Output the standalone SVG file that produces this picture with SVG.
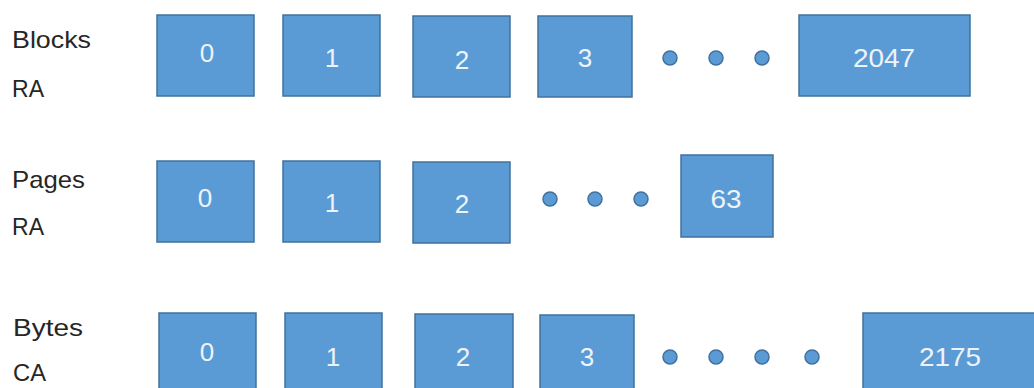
<svg xmlns="http://www.w3.org/2000/svg" width="1034" height="388" viewBox="0 0 1034 388">
<style>
.box{fill:#5B9BD5;stroke:#41719C;stroke-width:1.5}
.dot{fill:#5B9BD5;stroke:#41719C;stroke-width:1.5}
.num{font-family:"Liberation Sans",Arial,sans-serif;font-size:26px;fill:#EEF3FA;text-anchor:middle}
.lbl{font-family:"Liberation Sans",Arial,sans-serif;font-size:24px;fill:#262626}
</style>
<rect width="1034" height="388" fill="#FFFFFF"/>
<g id="labels">
<text class="lbl" x="12" y="48" textLength="79" lengthAdjust="spacingAndGlyphs">Blocks</text>
<text class="lbl" x="12" y="97" textLength="32" lengthAdjust="spacingAndGlyphs">RA</text>
<text class="lbl" x="12" y="188" textLength="73" lengthAdjust="spacingAndGlyphs">Pages</text>
<text class="lbl" x="12" y="235" textLength="32" lengthAdjust="spacingAndGlyphs">RA</text>
<text class="lbl" x="13" y="336" textLength="70" lengthAdjust="spacingAndGlyphs">Bytes</text>
<text class="lbl" x="13" y="381" textLength="33" lengthAdjust="spacingAndGlyphs">CA</text>
</g>
<g id="blocks-row">
<g id="block-0"><rect class="box" x="157" y="15" width="97" height="81"/><text class="num" x="207" y="62">0</text></g>
<g id="block-1"><rect class="box" x="283" y="15" width="97" height="81"/><text class="num" x="332" y="67">1</text></g>
<g id="block-2"><rect class="box" x="413" y="16" width="97" height="81"/><text class="num" x="462" y="69">2</text></g>
<g id="block-3"><rect class="box" x="538" y="16" width="94" height="81"/><text class="num" x="585" y="67">3</text></g>
<g id="block-dots"><circle class="dot" cx="670" cy="58" r="7"/><circle class="dot" cx="716" cy="58" r="7"/><circle class="dot" cx="762" cy="58" r="7"/></g>
<g id="block-2047"><rect class="box" x="799" y="15" width="171" height="81"/><text class="num" x="884" y="67" textLength="62" lengthAdjust="spacingAndGlyphs">2047</text></g>
</g>
<g id="pages-row">
<g id="page-0"><rect class="box" x="157" y="161" width="97" height="81"/><text class="num" x="205" y="207">0</text></g>
<g id="page-1"><rect class="box" x="283" y="161" width="97" height="81"/><text class="num" x="332" y="212">1</text></g>
<g id="page-2"><rect class="box" x="413" y="162" width="97" height="81"/><text class="num" x="462" y="213">2</text></g>
<g id="page-dots"><circle class="dot" cx="550" cy="199" r="7"/><circle class="dot" cx="595" cy="199" r="7"/><circle class="dot" cx="641" cy="199" r="7"/></g>
<g id="page-63"><rect class="box" x="681" y="155" width="92" height="82"/><text class="num" x="726" y="208" textLength="31" lengthAdjust="spacingAndGlyphs">63</text></g>
</g>
<g id="bytes-row">
<g id="byte-0"><rect class="box" x="159" y="313" width="97" height="90"/><text class="num" x="207" y="361">0</text></g>
<g id="byte-1"><rect class="box" x="285" y="313" width="97" height="90"/><text class="num" x="333" y="366">1</text></g>
<g id="byte-2"><rect class="box" x="415" y="314" width="98" height="90"/><text class="num" x="463" y="366">2</text></g>
<g id="byte-3"><rect class="box" x="540" y="315" width="94" height="90"/><text class="num" x="587" y="366">3</text></g>
<g id="byte-dots"><circle class="dot" cx="670" cy="357" r="7"/><circle class="dot" cx="716" cy="357" r="7"/><circle class="dot" cx="762" cy="357" r="7"/><circle class="dot" cx="812" cy="357" r="7"/></g>
<g id="byte-2175"><rect class="box" x="863" y="313" width="175" height="90"/><text class="num" x="950" y="366" textLength="62" lengthAdjust="spacingAndGlyphs">2175</text></g>
</g>
</svg>
